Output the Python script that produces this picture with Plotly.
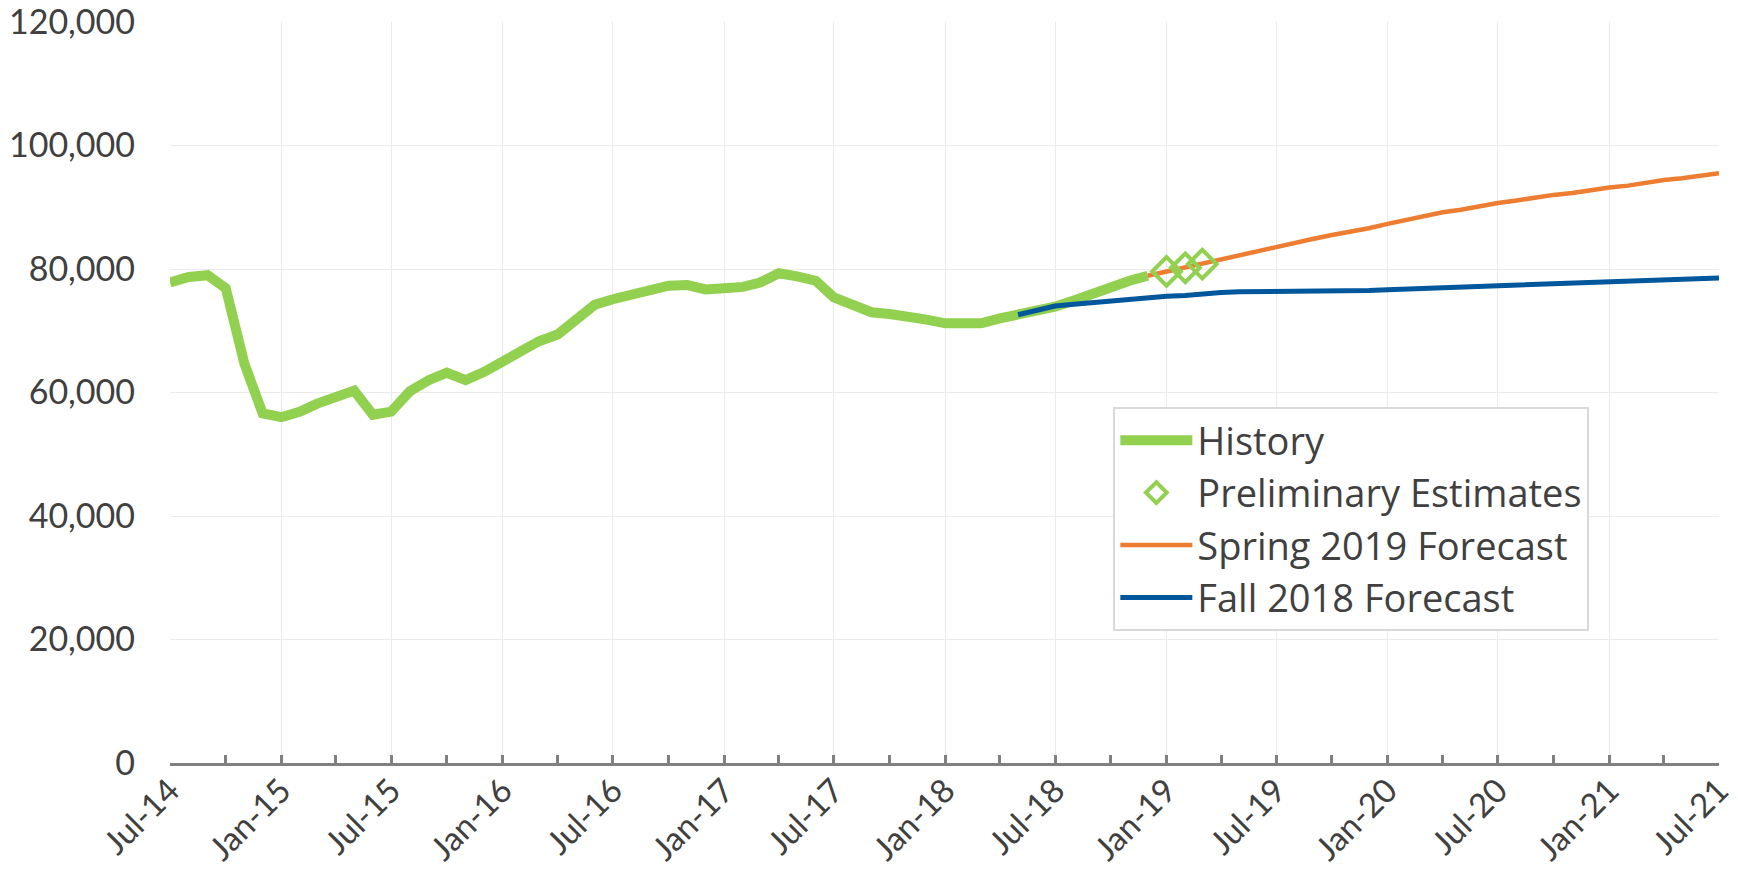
import plotly.graph_objects as go
import pandas as pd

# monthly values
history_months = pd.date_range("2014-07-01", "2018-12-01", freq="MS")
history = [
    77800, 78700, 79000, 76900, 64600, 56600,
    56000, 56900, 58200, 59200, 60300, 56400, 56900, 60200, 62000, 63200, 62000, 63300,
    65000, 67000, 68300, 69400, 72000, 74200, 75100, 75800, 76300, 77300, 77400, 76700,
    76900, 77100, 77800, 79300, 78800, 78100, 75400, 74300, 73000, 72700, 72400, 71800,
    71200, 71000, 71200, 72000, 72600, 73100, 73900, 74900, 76100, 77100, 78100, 78900,
]

prelim_months = pd.date_range("2019-01-01", "2019-03-01", freq="MS")
prelim = [79600, 80200, 80800]

spring_months = pd.date_range("2018-12-01", "2021-07-01", freq="MS")
spring_2019 = [
    78900,
    79600, 80200, 80800, 81600, 82300, 82900, 83600, 84300, 84900, 85500, 86000, 86600,
    87300, 88000, 88500, 89200, 89600, 90200, 90700, 91100, 91600, 92000, 92300, 92800,
    93200, 93500, 94000, 94400, 94700, 95100, 95500,
]

fall_months = pd.date_range("2018-05-01", "2021-07-01", freq="MS")
fall_2018 = [
    72600, 73400, 74000, 74300, 74600, 74900, 75200, 75400,
    75600, 75700, 76000, 76200, 76300, 76300, 76300, 76350, 76400, 76400, 76450, 76500,
    76650, 76750, 76850, 76950, 77050, 77150, 77300, 77400, 77500, 77600, 77700, 77800,
    77900, 78000, 78100, 78200, 78300, 78400, 78550,
]

GREEN = "#92D050"
ORANGE = "#ED7D31"
BLUE = "#00579C"
TEXT = "#404040"
FONT = "Lato, Open Sans, sans-serif"

fig = go.Figure()

fig.add_trace(go.Scatter(
    x=history_months, y=history, name="History", mode="lines",
    line=dict(color=GREEN, width=10), legendrank=1,
))
fig.add_trace(go.Scatter(
    x=fall_months, y=fall_2018, name="Fall 2018 Forecast", mode="lines",
    line=dict(color=BLUE, width=5), legendrank=4,
))
fig.add_trace(go.Scatter(
    x=spring_months, y=spring_2019, name="Spring 2019 Forecast", mode="lines",
    line=dict(color=ORANGE, width=4.5), legendrank=3,
))
fig.add_trace(go.Scatter(
    x=prelim_months, y=prelim, name="Preliminary Estimates", mode="markers",
    marker=dict(symbol="diamond-open", size=22, color=GREEN, line=dict(width=4, color=GREEN)),
    legendrank=2,
))

fig.update_layout(
    width=1738, height=886,
    margin=dict(l=170, r=19, t=22, b=123),
    paper_bgcolor="white", plot_bgcolor="white",
    font=dict(family=FONT, color=TEXT, size=30),
    legend=dict(
        x=0.609, y=0.4804, xanchor="left", yanchor="top",
        bgcolor="white", bordercolor="#d9d9d9", borderwidth=2,
        font=dict(family="Open Sans, sans-serif", size=38, color=TEXT),
        itemwidth=72, tracegroupgap=0,
    ),
    showlegend=True,
)

fig.update_xaxes(
    type="date", automargin=False, ticklabeloverflow="allow",
    range=["2014-07-01", "2021-07-01"],
    tick0="2014-07-01", dtick="M6", tickformat="%b-%y",
    tickangle=-45, tickfont=dict(size=33, color=TEXT),
    showgrid=True, gridcolor="#ebebeb", gridwidth=1,
    showline=True, linecolor="#808080", linewidth=3,
    ticks="inside", ticklen=8, tickwidth=3, tickcolor="#808080",
    minor=dict(dtick="M3", tick0="2014-07-01", ticks="inside", ticklen=8,
               tickwidth=3, tickcolor="#808080", showgrid=False),
    ticklabelstandoff=-8,
    zeroline=False,
)

fig.update_yaxes(
    automargin=False, ticklabeloverflow="allow",
    range=[0, 120000], dtick=20000, tickformat=",",
    tickfont=dict(size=34, color=TEXT),
    showgrid=True, gridcolor="#ebebeb", gridwidth=1,
    showline=False, zeroline=False,
    ticklabelstandoff=34,
)

# page body has a default 8px margin; drop it so the figure fills the window
fig.write_html("out.html", config={"displayModeBar": False},
               post_script="document.body.style.margin='0';")
